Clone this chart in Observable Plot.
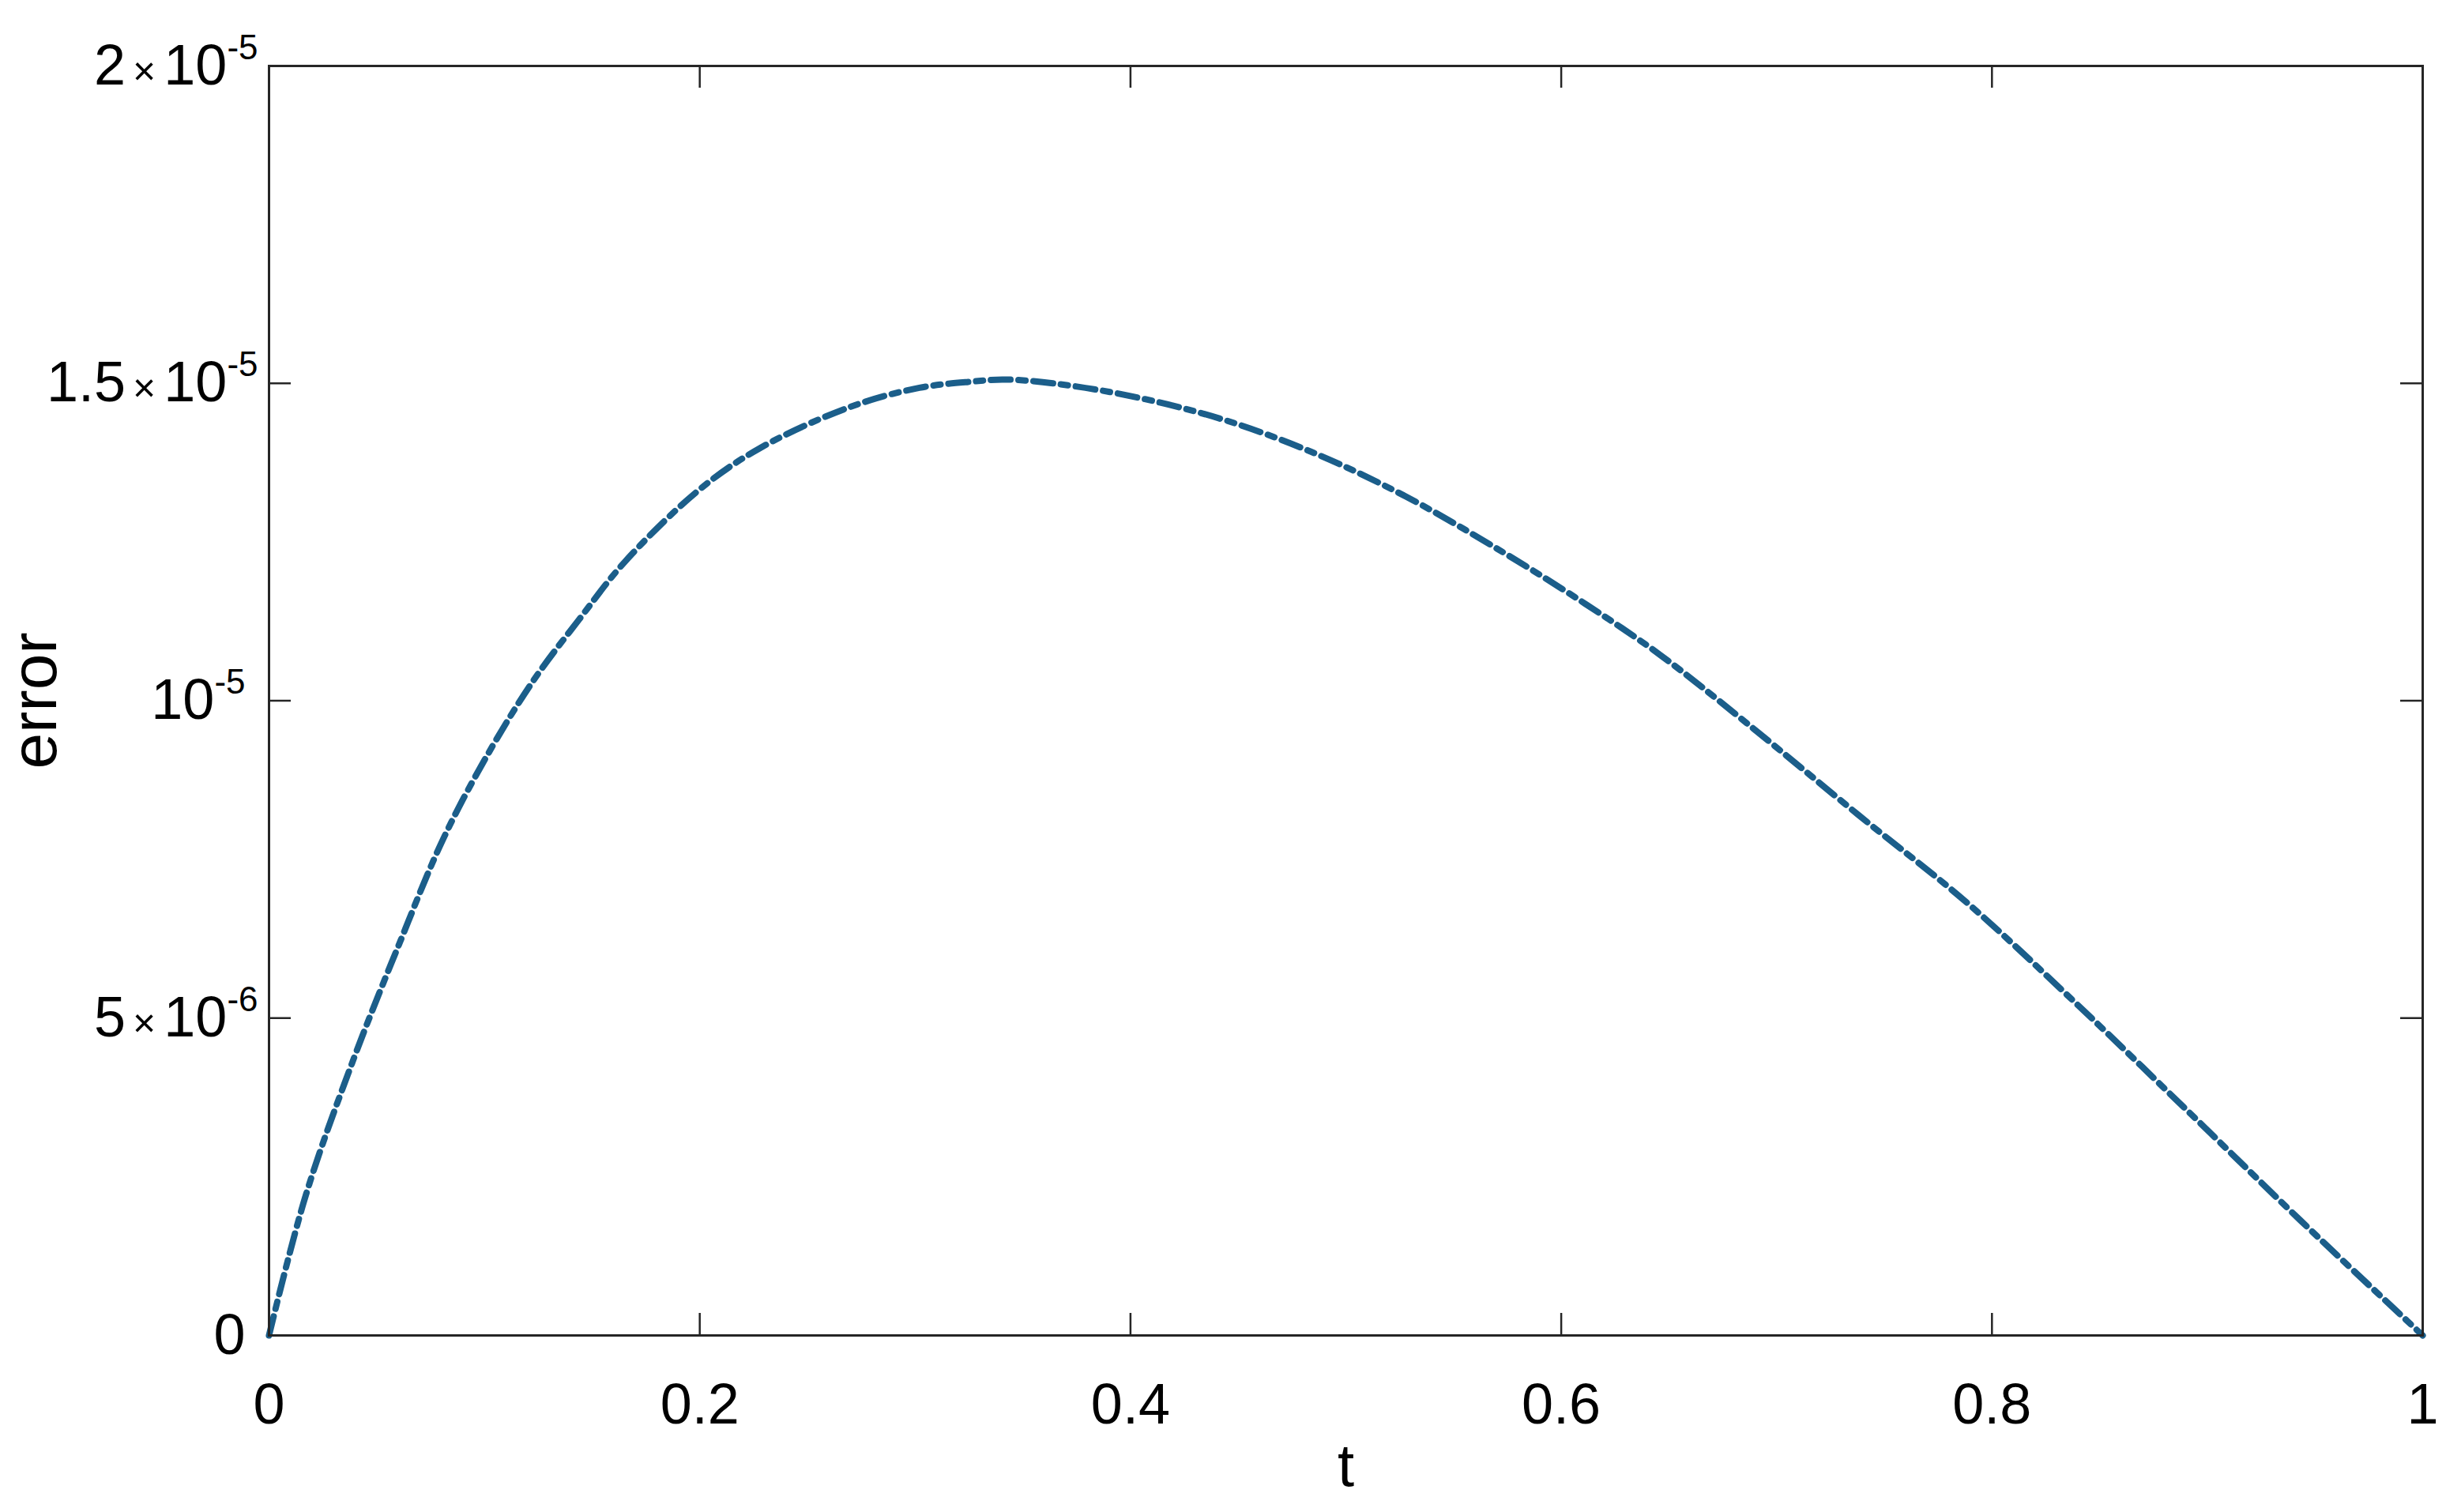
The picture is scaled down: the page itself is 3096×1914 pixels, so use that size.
<!DOCTYPE html>
<html>
<head>
<meta charset="utf-8">
<script src="https://cdn.jsdelivr.net/npm/d3@7"></script>
<script src="https://cdn.jsdelivr.net/npm/@observablehq/plot@0.6"></script>
<style>
  html, body { margin: 0; padding: 0; background: #ffffff; }
  #chart svg { display: block; overflow: visible; }
</style>
</head>
<body>
<div id="chart"></div>
<script>
// ---- data ----
const tValues = [0, 0.017, 0.039, 0.06, 0.081, 0.102, 0.123, 0.144, 0.165, 0.2, 0.228, 0.27, 0.302, 0.327, 0.341, 0.364, 0.4, 0.442, 0.484, 0.526, 0.569, 0.611, 0.646, 0.686, 0.738, 0.789, 0.84, 0.892, 0.943, 1];
const errorValues = [0, 2.2e-6, 4.33e-6, 6.13e-6, 7.83e-6, 9.18e-6, 10.33e-6, 11.28e-6, 12.18e-6, 13.33e-6, 13.98e-6, 14.63e-6, 14.93e-6, 15.03e-6, 15.06e-6, 15.0e-6, 14.8e-6, 14.44e-6, 13.92e-6, 13.25e-6, 12.42e-6, 11.53e-6, 10.72e-6, 9.65e-6, 8.2e-6, 6.8e-6, 5.2e-6, 3.5e-6, 1.82e-6, 0];

const xTicks = [0, 0.2, 0.4, 0.6, 0.8, 1];
const xTickLabels = ["0", "0.2", "0.4", "0.6", "0.8", "1"];
const yTicks = [0, 5e-6, 1e-5, 1.5e-5, 2e-5];
const yTickLabels = ["0", "5×10^-6", "10^-5", "1.5×10^-5", "2×10^-5"];
const xLabel = "t";
const yLabel = "error";

const data = tValues.map((t, i) => ({t, err: errorValues[i]}));

const W = 3096, H = 1914;
const mL = 340, mR = 30, mT = 83, mB = 224;
const plotW = W - mL - mR, plotH = H - mT - mB;
const tickLen = 28;
const axisColor = "#262626";
const lineColor = "#1b5e8a";

const svg = Plot.plot({
  width: W,
  height: H,
  marginLeft: mL,
  marginRight: mR,
  marginTop: mT,
  marginBottom: mB,
  style: {fontFamily: "'Liberation Sans', Arial, Helvetica, sans-serif", fontSize: "72px", color: "#000", background: "#fff"},
  x: {domain: [0, 1]},
  y: {domain: [0, 2e-5]},
  marks: [
    Plot.line(data, {x: "t", y: "err", curve: "catmull-rom", stroke: lineColor, strokeWidth: 8, strokeDasharray: "25,10,9,10"}),
    Plot.frame({stroke: axisColor, strokeWidth: 3}),
    // inward ticks on all four sides
    Plot.ruleX(xTicks, {x: d => d, insetTop: plotH - tickLen, stroke: axisColor, strokeWidth: 2.5}),
    Plot.ruleX(xTicks, {x: d => d, insetBottom: plotH - tickLen, stroke: axisColor, strokeWidth: 2.5}),
    Plot.ruleY(yTicks, {y: d => d, insetRight: plotW - tickLen, stroke: axisColor, strokeWidth: 2.5}),
    Plot.ruleY(yTicks, {y: d => d, insetLeft: plotW - tickLen, stroke: axisColor, strokeWidth: 2.5}),
    Plot.axisX(xTicks, {tickSize: 0, tickPadding: 60, fontSize: 72, label: null,
      tickFormat: d => xTickLabels[xTicks.indexOf(d)]}),
    Plot.axisY(yTicks, {tickSize: 0, tickPadding: 30, fontSize: 72, label: null,
      tickFormat: d => yTickLabels[yTicks.indexOf(d)]}),
    Plot.text([xLabel], {frameAnchor: "bottom", dy: 190, lineAnchor: "bottom", textAnchor: "middle", fontSize: 76, fill: "#000"}),
    Plot.text([yLabel], {frameAnchor: "left", dx: -270, rotate: -90, lineAnchor: "bottom", textAnchor: "middle", fontSize: 82, fill: "#000"})
  ]
});

// render "M×10^E" labels with a real superscript
svg.querySelectorAll('g[aria-label="y-axis tick label"] text').forEach(el => {
  const s = el.textContent;
  const m = s.match(/^(?:(.+)×)?10\^(-?\d+)$/);
  if (!m) return;
  const ns = "http://www.w3.org/2000/svg";
  el.textContent = "";
  if (m[1]) {
    const a = document.createElementNS(ns, "tspan");
    a.textContent = m[1];
    el.appendChild(a);
    const x = document.createElementNS(ns, "tspan");
    x.setAttribute("font-size", "50");
    x.setAttribute("dx", "9");
    x.textContent = "×";
    el.appendChild(x);
  }
  const b = document.createElementNS(ns, "tspan");
  b.setAttribute("font-size", "72");
  if (m[1]) b.setAttribute("dx", "10");
  b.textContent = "10";
  el.appendChild(b);
  const sup = document.createElementNS(ns, "tspan");
  sup.setAttribute("font-size", "44");
  sup.setAttribute("dy", "-32");
  sup.textContent = m[2];
  el.appendChild(sup);
  if (m[1]) {
    const tr = el.getAttribute("transform") || "";
    el.setAttribute("transform", (tr + " translate(16,0)").trim());
  }
});

document.getElementById("chart").appendChild(svg);
</script>
</body>
</html>
